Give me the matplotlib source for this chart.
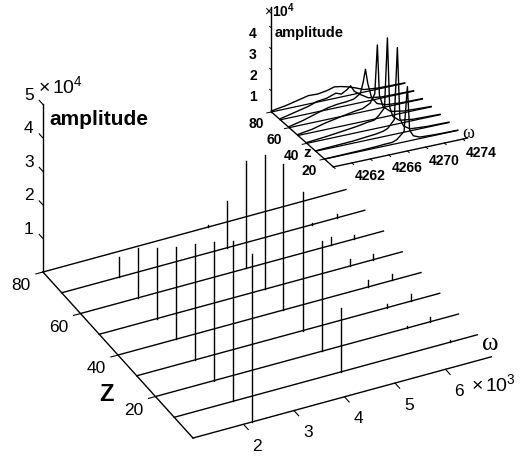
import numpy as np
import matplotlib.pyplot as plt
from mpl_toolkits.mplot3d import proj3d

plt.rcParams['font.family'] = ['Liberation Sans', 'DejaVu Sans']
plt.rcParams['mathtext.fontset'] = 'custom'
plt.rcParams['mathtext.rm'] = 'Liberation Sans'
plt.rcParams['mathtext.it'] = 'Liberation Sans:italic'
plt.rcParams['mathtext.bf'] = 'Liberation Sans:bold'

# ---- main panel data (omega in 1e3, amplitude in 1e4) ----
z_lines = [0, 10, 20, 30, 40, 50, 60, 70, 80]
w_h1 = [2.17, 2.16, 2.16, 2.15, 2.15, 2.14, 2.14, 2.13, 2.13]
a_h1 = [5.0, 4.8, 4.15, 3.45, 2.75, 2.1, 1.5, 0.6, 0.0]
w_h2 = [4.31, 4.30, 4.30, 4.29, 4.27, 4.28, 4.28, 4.27, 4.27]
a_h2 = [0.0, 1.9, 3.3, 4.15, 4.35, 4.0, 3.2, 1.4, 0.05]
w_h3a = [5.96, 5.97, 5.98, 5.96, 5.95, 5.97, 5.96, 5.96, 5.96]
a_h3a = [0.0, 0.0, 0.06, 0.12, 0.2, 0.2, 0.24, 0.06, 0.0]
w_h3b = [6.44, 6.46, 6.44, 6.43, 6.43, 6.42, 6.42, 6.45, 6.44]
a_h3b = [0.0, 0.06, 0.15, 0.2, 0.18, 0.18, 0.12, 0.1, 0.0]

w_ticks = [2, 3, 4, 5, 6]
z_ticks = [20, 40, 60, 80]
a_ticks = [1, 2, 3, 4, 5]

# ---- inset data (omega in Hz, amplitude in 1e4), one spectrum per z ----
zi_lines = [20, 30, 40, 50, 60, 70, 80]
wi_z20 = [4260, 4262, 4264, 4265.5, 4266.5, 4267.3, 4267.8, 4268.6, 4268.96, 4269.2, 4269.6, 4270.3, 4272, 4274.4]
ai_z20 = [0.0, 0.02, 0.04, 0.06, 0.09, 0.1, 0.18, 0.5, 2.6, 0.5, 0.2, 0.07, 0.03, 0.01]
wi_z30 = [4260, 4262, 4264, 4265.5, 4266.5, 4267.3, 4267.8, 4268.5, 4268.83, 4269.1, 4269.5, 4270.2, 4272, 4274.4]
ai_z30 = [0.02, 0.06, 0.1, 0.16, 0.2, 0.26, 0.35, 0.7, 4.1, 0.7, 0.3, 0.1, 0.04, 0.02]
wi_z40 = [4260, 4262, 4264, 4265.5, 4266.5, 4267.3, 4267.8, 4268.4, 4268.71, 4268.95, 4269.3, 4270.0, 4271.5, 4274.4]
ai_z40 = [0.04, 0.12, 0.22, 0.3, 0.38, 0.42, 0.6, 0.9, 4.2, 0.9, 0.4, 0.15, 0.06, 0.02]
wi_z50 = [4260, 4261.5, 4263, 4264.2, 4265.2, 4266.2, 4267.0, 4267.8, 4268.3, 4268.58, 4268.8, 4269.2, 4270.0, 4271.5, 4274.4]
ai_z50 = [0.05, 0.15, 0.32, 0.42, 0.5, 0.58, 0.62, 0.8, 1.2, 3.5, 1.1, 0.5, 0.2, 0.08, 0.02]
wi_z60 = [4260, 4261.5, 4263, 4264.2, 4265.2, 4266.2, 4267.0, 4267.7, 4268.0, 4268.25, 4268.5, 4268.9, 4269.5, 4270.5, 4272, 4274.4]
ai_z60 = [0.05, 0.2, 0.4, 0.55, 0.62, 0.65, 0.7, 0.9, 1.4, 2.0, 1.3, 0.6, 0.25, 0.1, 0.04, 0.02]
wi_z70 = [4260, 4261.5, 4263, 4264, 4265, 4266, 4266.6, 4267.2, 4267.6, 4268.0, 4268.6, 4269.5, 4271, 4274.4]
ai_z70 = [0.05, 0.2, 0.35, 0.5, 0.55, 0.7, 0.6, 0.75, 0.9, 0.6, 0.4, 0.15, 0.05, 0.02]
wi_z80 = [4260, 4261.5, 4263, 4264, 4265, 4266, 4266.8, 4267.5, 4268.2, 4269, 4270, 4271.5, 4274.4]
ai_z80 = [0.05, 0.15, 0.3, 0.4, 0.38, 0.45, 0.55, 0.5, 0.42, 0.3, 0.12, 0.05, 0.02]
wi_all = [wi_z20, wi_z30, wi_z40, wi_z50, wi_z60, wi_z70, wi_z80]
ai_all = [ai_z20, ai_z30, ai_z40, ai_z50, ai_z60, ai_z70, ai_z80]

wi_ticks = [4260, 4262, 4264, 4266, 4268, 4270, 4272, 4274]
wi_labels = [4262, 4266, 4270, 4274]
zi_ticks = [20, 40, 60, 80]
ai_ticks = [1, 2, 3, 4]

K = 'black'
LW = 1.0


def bare_3d(a):
    """ortho 3d axes with nothing of its own drawn"""
    a.set_proj_type('ortho')
    a.set_xticks([])
    a.set_yticks([])
    a.set_zticks([])
    a.set_axis_off()
    a.set_facecolor('none')


def put(a, x, y, z, s, **kw):
    # plain 2d text at the projected spot of a 3d point
    px, py, _ = proj3d.proj_transform(x, y, z, a.get_proj())
    a.text2D(px, py, s, transform=a.transData, **kw)


fig = plt.figure(figsize=(5.24, 4.57), dpi=100)

# ---------------- main 3d panel ----------------
ax = fig.add_axes([34.8 / 524, -7.7 / 457, 457 / 524, 1.0], projection='3d')
ax.view_init(elev=33.29, azim=-116.38)
ax.set_box_aspect((338.2, 337.6, 200.4), zoom=1.1008)
ax.set_xlim(1, 7)
ax.set_ylim(0, 80)
ax.set_zlim(0, 5)
bare_3d(ax)

# box edges
ax.plot([1, 1], [0, 80], [0, 0], color=K, lw=LW)
ax.plot([1, 1], [80, 80], [0, 5], color=K, lw=LW)
for z in z_lines:
    ax.plot([1, 7], [z, z], [0, 0], color=K, lw=LW)

for ws, amps in [(w_h1, a_h1), (w_h2, a_h2), (w_h3a, a_h3a), (w_h3b, a_h3b)]:
    for z, w, a in zip(z_lines, ws, amps):
        if a > 0:
            ax.plot([w, w], [z, z], [0, a], color=K, lw=LW)

# ticks + labels
for w in w_ticks:
    ax.plot([w, w], [0, -2.5], [0, 0], color=K, lw=0.8)
    put(ax, w - 0.1, -10, 0, str(w), ha='center', va='center', fontsize=12.5)
put(ax, 6.14, -10, 0.12, r'$\times\,10^3$', ha='left', va='center', fontsize=14)
put(ax, 7.07, 5, 0, 'ω', ha='center', va='center', fontsize=18,
    family=['Liberation Serif', 'DejaVu Serif'])

for z in z_ticks:
    ax.plot([1, 0.86], [z, z], [0, 0], color=K, lw=0.8)
    put(ax, 0.45, z - 3, 0, str(z), ha='center', va='center', fontsize=12.5)
put(ax, 0.25, 26, 0, 'Z', ha='center', va='center', fontsize=17,
    fontweight='bold')

for a in a_ticks:
    ax.plot([1, 1], [80, 82], [a, a], color=K, lw=0.8)
    put(ax, 0.87, 84, a + 0.08, str(a), ha='center', va='center', fontsize=12.5)
put(ax, 0.9, 80, 5.6, r'$\times\,10^4$', ha='left', va='center', fontsize=14)
put(ax, 1.12, 80, 4.51, 'amplitude', ha='left', va='center', fontsize=15,
    fontweight='bold')

# ---------------- inset 3d panel ----------------
axi = fig.add_axes([241.1 / 524, 256.1 / 457, 250 / 524, 250 / 457],
                   projection='3d')
axi.view_init(elev=25.9, azim=-116.2)
axi.set_box_aspect((149.5, 140.2, 116.7), zoom=0.9158)
axi.set_xlim(4260, 4274.5)
axi.set_ylim(10, 80)
axi.set_zlim(0, 5)
bare_3d(axi)

axi.plot([4260, 4260], [10, 80], [0, 0], color=K, lw=LW)
axi.plot([4260, 4260], [80, 80], [0, 5], color=K, lw=LW)
axi.plot([4260, 4274.5], [10, 10], [0, 0], color=K, lw=LW)
for z, ws, amps in zip(zi_lines, wi_all, ai_all):
    axi.plot([4260, 4274.4], [z, z], [0, 0], color=K, lw=0.9)
    axi.plot(ws, [z] * len(ws), amps, color=K, lw=LW)

for w in wi_ticks:
    axi.plot([w, w], [10, 8], [0, 0], color=K, lw=0.7)
for w in wi_labels:
    put(axi, w + 0.3, -8, 0, str(w), ha='center', va='center', fontsize=10,
        fontweight='bold')
put(axi, 4275.0, 14, 0, 'ω', ha='center', va='center', fontsize=13,
    family=['Liberation Serif', 'DejaVu Serif'])
for z in zi_ticks:
    axi.plot([4260, 4259.5], [z, z], [0, 0], color=K, lw=0.7)
    put(axi, 4257.8, z - 6, -0.15, str(z), ha='center', va='center',
        fontsize=10, fontweight='bold')
put(axi, 4258.9, 28, 0.08, 'z', ha='center', va='center', fontsize=11,
    fontweight='bold')
for a in ai_ticks:
    axi.plot([4260, 4260], [80, 82], [a, a], color=K, lw=0.7)
    put(axi, 4258.0, 80, a - 0.1, str(a), ha='center', va='center',
        fontsize=10, fontweight='bold')
put(axi, 4259.2, 80, 4.9, r'$\times\mathbf{10^4}$', ha='left', va='center',
    fontsize=10)
put(axi, 4260.3, 80, 3.75, 'amplitude', ha='left', va='center', fontsize=10.5,
    fontweight='bold')

fig.savefig('out.png', dpi=100)
